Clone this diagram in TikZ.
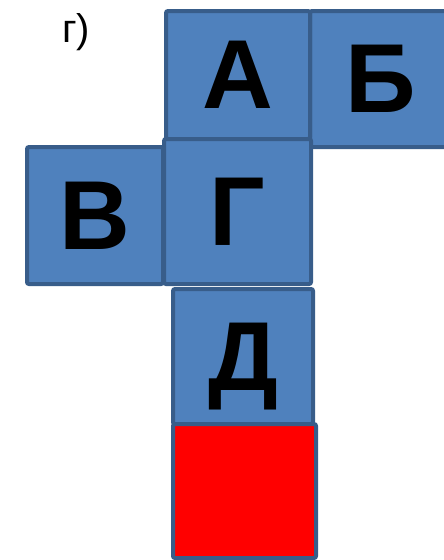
\documentclass[tikz,border=0pt]{standalone}
\usepackage{fontspec}
\setmainfont{Liberation Sans}
\usepackage{xcolor}
\usepackage{tikz}
\usetikzlibrary{positioning}
\definecolor{TileFill}{HTML}{4F81BD}
\definecolor{TileEdge}{HTML}{385D8A}
\definecolor{TileRed}{HTML}{FF0000}

\begin{document}
\begin{tikzpicture}[
  x=1pt, y=-1pt,
  tile/.style={draw=TileEdge, fill=TileFill, line width=4pt, rounded corners=2pt,
    inner sep=0pt, text depth=0pt, font=\fontsize{98}{98}\selectfont\bfseries},
  tag/.style={anchor=base west, inner sep=0pt, font=\fontsize{40}{40}\selectfont}
]
\useasboundingbox (0,0) rectangle (444,560);
\node[tag] (label) at (62,42) {г)};

\node[tile, minimum width=136pt, minimum height=137pt] (v) at (95,215.5) {В};
\node[tile, minimum width=142pt, minimum height=136pt] (b) at (381,79) {Б};
\node[tile, minimum width=144pt, minimum height=128pt] (a) at (238,75) {А};
\node[tile, minimum width=147pt, minimum height=145pt] (g) at (237.5,211.5) {Г};
\node[tile, minimum width=140pt, minimum height=135pt] (d) at (243,356.5) {Д};
\node[tile, fill=TileRed, minimum width=143pt, minimum height=134pt] (red) at (244.5,491) {};
\end{tikzpicture}
\end{document}
